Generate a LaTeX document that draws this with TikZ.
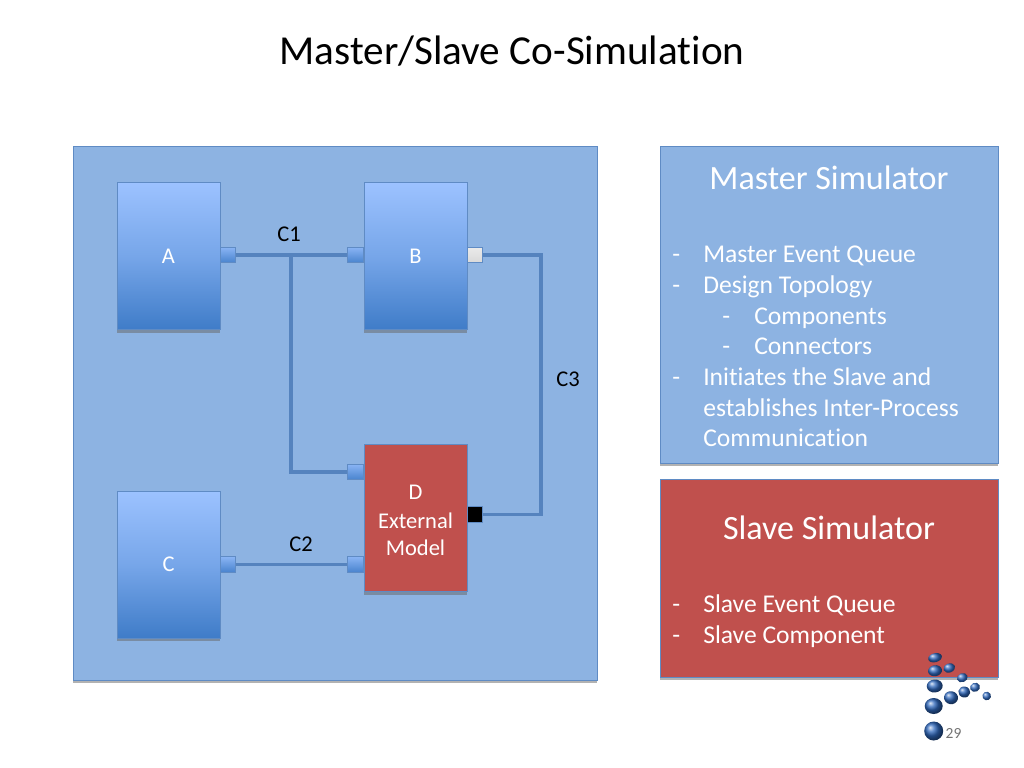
\documentclass[tikz,border=0pt]{standalone}
\usepackage{fontspec}
\setmainfont{Carlito}[Ligatures=NoCommon]
\usetikzlibrary{shadows}
\definecolor{panelblue}{HTML}{8DB3E2}
\definecolor{edgeblue}{HTML}{5F8BC4}
\definecolor{wireblue}{HTML}{5583BE}
\definecolor{boxred}{HTML}{C0504D}
\definecolor{boxtop}{HTML}{9CC2FF}
\definecolor{boxbot}{HTML}{3F7CC8}
\definecolor{logoblue}{HTML}{2F68BC}
\newlength{\pxu}
\setlength{\pxu}{0.025cm}
\tikzset{
    panel/.style={draw=edgeblue, line width=0.6pt, general shadow={fill=black!60, opacity=0.5, shadow xshift=0pt, shadow yshift=-2.2pt}, inner sep=0pt},
    comp/.style={panel, top color=boxtop, bottom color=boxbot, middle color=boxtop!60!boxbot, text=white, minimum width=103\pxu, minimum height=147\pxu, font=\fontsize{16}{18}\selectfont},
    ext/.style={comp, top color=boxred, bottom color=boxred, middle color=boxred, align=center},
    port/.style={draw=edgeblue, line width=0.4pt, top color=boxtop!80!boxbot, bottom color=boxbot!90!boxtop, minimum size=15.5\pxu, inner sep=0pt},
    wire/.style={draw=wireblue, line width=2.2pt},
    lbl/.style={text=black, font=\fontsize{16}{18}\selectfont},
    item/.style={anchor=base west, inner sep=0pt, text=white, font=\fontsize{18.2}{20}\selectfont},
    head/.style={text=white, font=\fontsize{24.2}{26}\selectfont},
    ball/.style={ball color=logoblue, draw=none}
}
\begin{document}
\begin{tikzpicture}[x=0.025cm, y=-0.025cm]
    \useasboundingbox (0, 0) rectangle (1024, 768);

    \node (title) at (512, 51) [font=\fontsize{29.3}{32}\selectfont, text=black] {Master/Slave Co-Simulation};

    % big panels
    \node (design) at (335, 413) [panel, fill=panelblue, minimum width=524\pxu, minimum height=534\pxu] {};
    \node (master) at (829, 304.5) [panel, fill=panelblue, minimum width=338\pxu, minimum height=317\pxu] {};
    \node (slave) at (829, 578) [panel, fill=boxred, minimum width=338\pxu, minimum height=198\pxu] {};

    % wires go under the ports
    \coordinate (j1) at (291, 255);
    \coordinate (k1) at (291, 472);
    \coordinate (k2) at (541, 255);
    \coordinate (k3) at (541, 514.5);

    \node (a) at (168.5, 256) [comp] {A};
    \node (b) at (415.5, 256) [comp] {B};
    \node (c) at (168.5, 564.5) [comp] {C};
    \node (d) at (415.5, 518) [ext] {\rule{0pt}{13.5pt}D\\[2.5pt]External\\[1pt]Model};

    \node (pa) at (228, 255) [port] {};
    \node (pb) at (355.5, 255) [port] {};
    \node (pbo) at (475, 255) [port, top color=black!8, bottom color=black!15] {};
    \node (pc) at (228, 564.5) [port] {};
    \node (pd1) at (355.5, 472) [port] {};
    \node (pd2) at (355.5, 564.5) [port] {};
    \node (pdo) at (475, 514.5) [port, top color=black, bottom color=black] {};

    \draw[wire] (pa) -- (pb);
    \draw[wire] (j1) -- (k1) -- (pd1);
    \draw[wire] (pbo) -- (k2) -- (k3) -- (pdo);
    \draw[wire] (pc) -- (pd2);

    \node (c1) at (289, 234) [lbl] {C1};
    \node (c2) at (301, 544) [lbl] {C2};
    \node (c3) at (568, 379) [lbl] {C3};

    % right hand text
    \node (mhead) at (829, 177.5) [head] {Master Simulator};
    \node (shead) at (829, 528) [head] {Slave Simulator};

    \foreach \x/\yy/\txt/\name in {703/262.5/Master Event Queue/m1, 703/293.5/Design Topology/m2, 754/324.5/Components/m3, 754/354.5/Connectors/m4, 703/385.5/Initiates the Slave and/m5, 703/416.5/establishes Inter-Process/m6, 703/446.5/Communication/m7, 703/612.5/Slave Event Queue/s1, 703/643.5/Slave Component/s2}
        \node (\name) at (\x, \yy) [item] {\txt};
    \foreach \x/\yy/\name in {672/262.5/d1, 672/293.5/d2, 722/324.5/d3, 722/354.5/d4, 672/385.5/d5, 672/612.5/d6, 672/643.5/d7}
        \node (\name) at (\x, \yy) [item] {-};

    % logo
    \foreach \x/\y/\rx/\ry/\rot in {935/657.7/7/4.5/15, 935/670.7/7/5.5/10, 949.3/668/6/4.5/20, 962.3/677.7/5.5/4.5/20, 975/687.3/5/4.5/25, 986.7/696/4.3/4.3/30, 964.3/692/6/5.5/-10, 951/697.7/7/6.5/-10, 934.7/686/8/6.5/5, 933.7/706/9/8/0, 933.7/731/9.5/9.5/0}
        \shade[ball, rotate around={\rot:(\x,\y)}] (\x, \y) ellipse ({\rx\pxu} and {\ry\pxu});

    \node (page) at (953.5, 733) [text=black!55, font=\fontsize{11}{13}\selectfont] {29};
\end{tikzpicture}
\end{document}
